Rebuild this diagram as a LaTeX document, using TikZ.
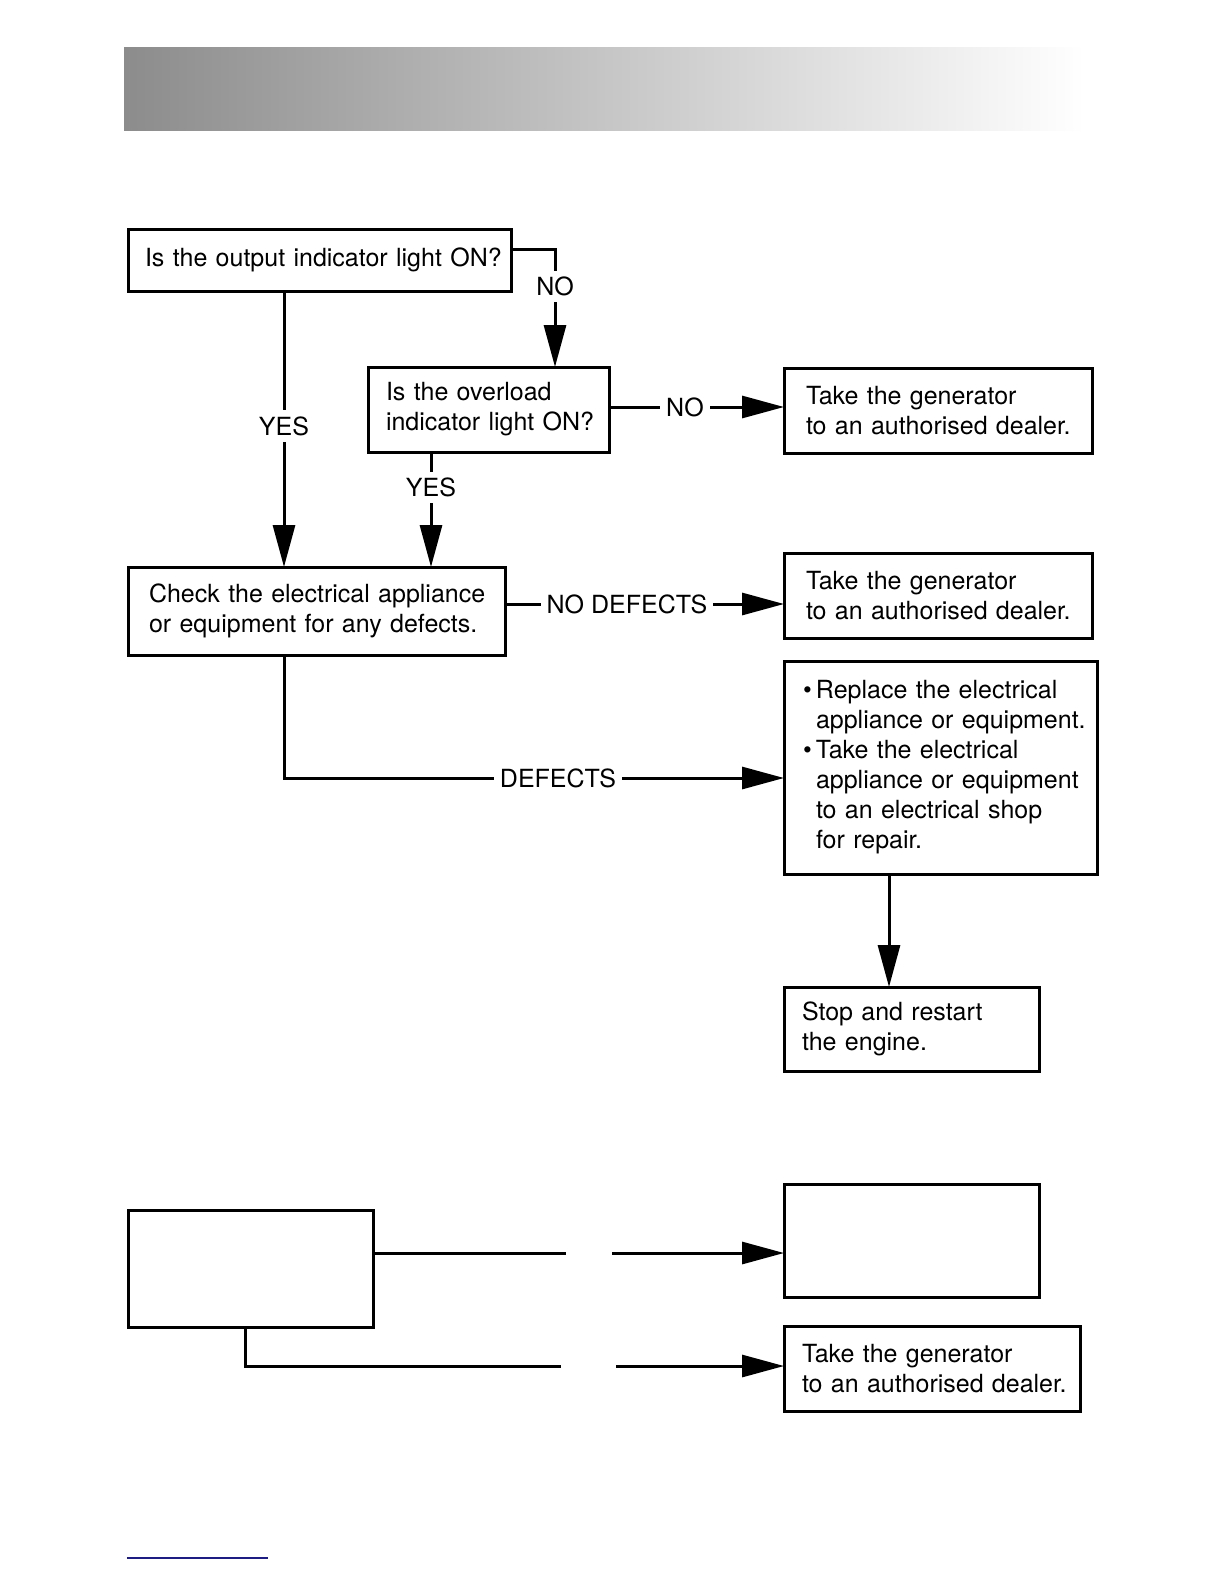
\documentclass[tikz,border=0pt]{standalone}
\usepackage{fontspec}
\setmainfont{TeX Gyre Heros}
\usetikzlibrary{arrows.meta,calc}
\definecolor{bargray}{RGB}{140,140,140}
\definecolor{rulenavy}{RGB}{28,28,130}
\newcommand{\boxfont}{\fontsize{12.5}{15}\selectfont}
\newcommand{\bul}{\makebox[8pt][l]{\hspace{1.5pt}\textbullet}}
\newcommand{\ind}{\hspace*{8pt}}

\begin{document}
\begin{tikzpicture}[x=0.5pt,y=-0.5pt]
        % Define styles
        \tikzstyle{box} = [draw, line width=1.5pt, anchor=north west, align=left,
            inner xsep=3pt, inner ysep=0pt, outer sep=0pt, font=\boxfont]
        \tikzstyle{link} = [line width=1.5pt]
        \tikzstyle{arrow} = [line width=1.5pt, -{Triangle[length=21pt,width=11pt]}]
        \tikzstyle{lbl} = [fill=white, inner xsep=3pt, inner ysep=3pt, font=\boxfont]
        \tikzset{inset/.style={execute at begin node={\leftskip=#1}}}

        % Header bar
        \shade [left color=bargray, right color=white] (124,48) rectangle (1085,131);

        % Nodes
        \node [box, text width=185.5pt, inset=5.5pt, minimum height=31pt] (output) at (128,229)
            {Is the output indicator light ON?};
        \node [box, text width=114.5pt, inset=6pt, minimum height=42.5pt] (overload) at (368,367)
            {Is the overload\\indicator light ON?};
        \node [box, text width=148pt, inset=8pt, minimum height=42.5pt] (dealerA) at (784,368)
            {Take the generator\\to an authorised dealer.};
        \node [box, text width=182.5pt, inset=7.5pt, minimum height=44pt] (check) at (128,567)
            {Check the electrical appliance\\or equipment for any defects.};
        \node [box, text width=148pt, inset=8pt, minimum height=42.5pt] (dealerB) at (784,553)
            {Take the generator\\to an authorised dealer.};
        \node [box, text width=150.5pt, inset=5pt, minimum height=106.5pt] (replace) at (784,661)
            {\bul Replace the electrical\\\ind appliance or equipment.\\\bul Take the electrical\\
             \ind appliance or equipment\\\ind to an electrical shop\\\ind for repair.};
        \node [box, text width=121.5pt, inset=6pt, minimum height=42pt] (restart) at (784,987)
            {Stop and restart\\the engine.};
        \node [box, minimum width=122.5pt, minimum height=58.5pt] (blankL) at (128,1210) {};
        \node [box, minimum width=127.5pt, minimum height=56.5pt] (blankR) at (784,1184) {};
        \node [box, text width=142pt, inset=6pt, minimum height=42.5pt] (dealerC) at (784,1326)
            {Take the generator\\to an authorised dealer.};

        % Arrows
        \coordinate (cNo) at (555,249);
        \draw [arrow] (output.east |- cNo) -- (cNo) -- node [lbl, pos=0.32] {NO} (overload.north -| cNo);
        \coordinate (cYesL) at (284,426);
        \draw [arrow] (output.south -| cYesL) -- node [lbl, pos=0.489] {YES} (check.north -| cYesL);
        \coordinate (cYesR) at (431,488);
        \draw [arrow] (overload.south -| cYesR) -- node [lbl, pos=0.31] {YES} (check.north -| cYesR);
        \coordinate (cNoB) at (0,407);
        \draw [arrow] (overload.east |- cNoB) -- node [lbl, pos=0.434] {NO} (dealerA.west |- cNoB);
        \coordinate (cNoDef) at (0,604);
        \draw [arrow] (check.east |- cNoDef) -- node [lbl, pos=0.437] {NO DEFECTS} (dealerB.west |- cNoDef);
        \coordinate (cDef) at (284,778);
        \draw [arrow] (check.south -| cDef) -- (cDef) -- node [lbl, pos=0.548] {DEFECTS} (replace.west |- cDef);
        \coordinate (cRst) at (889,0);
        \draw [arrow] (replace.south -| cRst) -- (restart.north -| cRst);

        % Lower part
        \coordinate (gapAl) at (566,1253);
        \coordinate (gapAr) at (612,1253);
        \draw [link] (blankL.east |- gapAl) -- (gapAl);
        \draw [arrow] (gapAr) -- (blankR.west |- gapAr);
        \coordinate (cBot) at (245,1366);
        \coordinate (gapBl) at (561,1366);
        \coordinate (gapBr) at (616,1366);
        \draw [link] (blankL.south -| cBot) -- (cBot) -- (gapBl);
        \draw [arrow] (gapBr) -- (dealerC.west |- gapBr);

        % Footer rule
        \draw [rulenavy, line width=1pt] (127,1558) -- (268,1558);

        \pgfresetboundingbox
        \useasboundingbox (0,0) rectangle (1224,1584);
    \end{tikzpicture}
\end{document}
